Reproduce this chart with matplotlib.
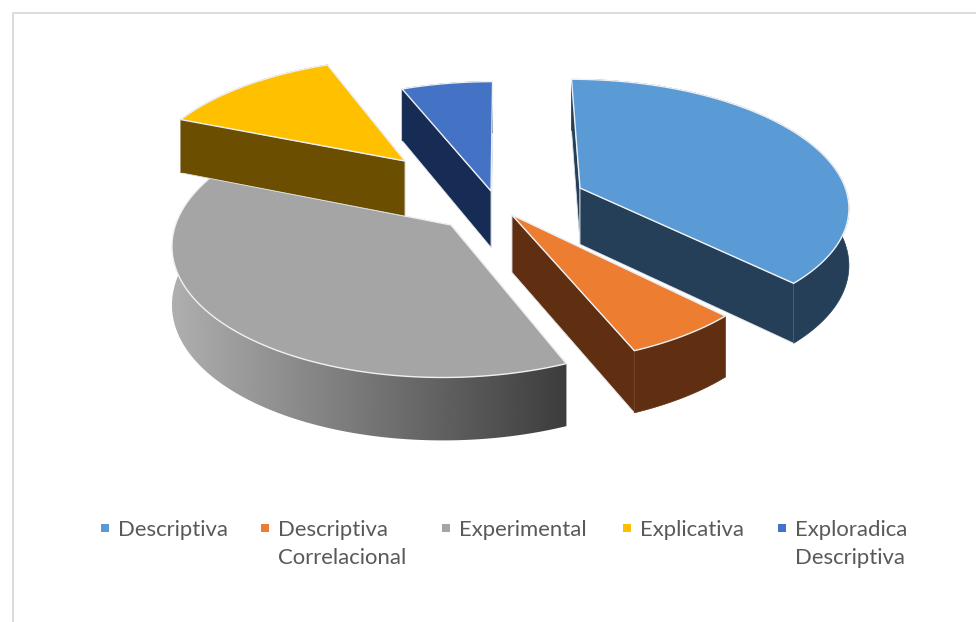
import numpy as np
import matplotlib
matplotlib.use("Agg")
import matplotlib.pyplot as plt
from matplotlib.patches import Polygon, Rectangle

# --- data ---
categories = ["Descriptiva", "Descriptiva\nCorrelacional", "Experimental", "Explicativa", "Exploradica\nDescriptiva"]
values = [37.5, 6.1, 37.5, 12.7, 6.2]

# --- style ---
top_colors = ["#5b9bd5", "#ed7d31", "#a5a5a5", "#ffc000", "#4472c4"]
side_colors = ["#243f57", "#602f12", None, "#6b4e00", "#172c54"]
slice_anchor = [(580, 188), (512, 215), (451, 225), (405, 161), (491, 191)]   # explode placement
draw_order = [2, 3, 4, 0, 1]
legend_x = [105, 265, 446, 627, 782]

CX, CY, A, B, K, DEPTH = 505.0, 205.0, 270.0, 127.0, 0.13, 57.0
START = 0.0

def project(U, V, down=False):
    s = 1 / (1 + K * V)
    X = CX + A * U * s
    Y = CY - B * V * s
    if down:
        Y = Y + DEPTH * (1 - 0.09 * V)
    return X, Y

def unproject(tx, ty):
    w = (CY - ty) / B
    V = w / (1 - K * w)
    s = 1 / (1 + K * V)
    return (tx - CX) / (A * s), V

fig = plt.figure(figsize=(9.76, 6.22), dpi=100, facecolor="white")
ax = fig.add_axes([0, 0, 1, 1])
ax.set_xlim(0, 976)
ax.set_ylim(622, 0)
ax.axis("off")

# chart frame
ax.plot([12.5, 12.5, 976], [622, 12.5, 12.5], color="#d9d9d9", lw=1.3, solid_capstyle="butt", zorder=0)

fractions = np.array(values) / np.sum(values)
edges = START + 360 * np.concatenate([[0], np.cumsum(fractions)])
gradient = np.linspace(0.71, 0.235, 256)[None, :]

z = 1
for i in draw_order:
    U0, V0 = unproject(*slice_anchor[i])
    th = np.radians(np.linspace(edges[i], edges[i + 1], 120))
    U = U0 + np.sin(th)
    V = V0 + np.cos(th)
    xt, yt = project(U, V)
    xb, yb = project(U, V, True)
    tipx, tipy = project(U0, V0)
    tipbx, tipby = project(U0, V0, True)

    side = side_colors[i]
    # cut faces, the one further back first
    for j in sorted((0, -1), key=lambda n: yt[n]):
        col = side if side else "#8c8c8c"
        ax.add_patch(Polygon([(tipx, tipy), (xt[j], yt[j]), (xb[j], yb[j]), (tipbx, tipby)],
                             closed=True, fc=col, ec="#dfe3e8", lw=0.6, zorder=z))
        z += 1
    # outer rim
    rim = list(zip(xt, yt)) + list(zip(xb[::-1], yb[::-1]))
    if side:
        ax.add_patch(Polygon(rim, closed=True, fc=side, ec=side, lw=0.5, zorder=z))
    else:
        clip = Polygon(rim, closed=True, fc="none", ec="none", transform=ax.transData)
        ax.add_patch(clip)
        im = ax.imshow(gradient, cmap="gray", vmin=0, vmax=1, aspect="auto",
                       extent=(150, 570, 460, 180), zorder=z, interpolation="bilinear")
        im.set_clip_path(clip)
    z += 1
    # top surface
    pts = [(tipx, tipy)] + list(zip(xt, yt))
    ax.add_patch(Polygon(pts, closed=True, fc=top_colors[i], ec="#eef1f4", lw=1.0, zorder=z))
    z += 1

ax.set_xlim(0, 976)
ax.set_ylim(622, 0)

# legend
for name, col, x in zip(categories, top_colors, legend_x):
    ax.add_patch(Rectangle((x - 4, 524), 8, 8, fc=col, ec="none", zorder=z))
    ax.text(x + 13, 519.5, name, family="Lato", fontsize=15.9, color="#595959",
            va="top", ha="left", linespacing=1.5, zorder=z)

fig.savefig("out.png", dpi=100)
